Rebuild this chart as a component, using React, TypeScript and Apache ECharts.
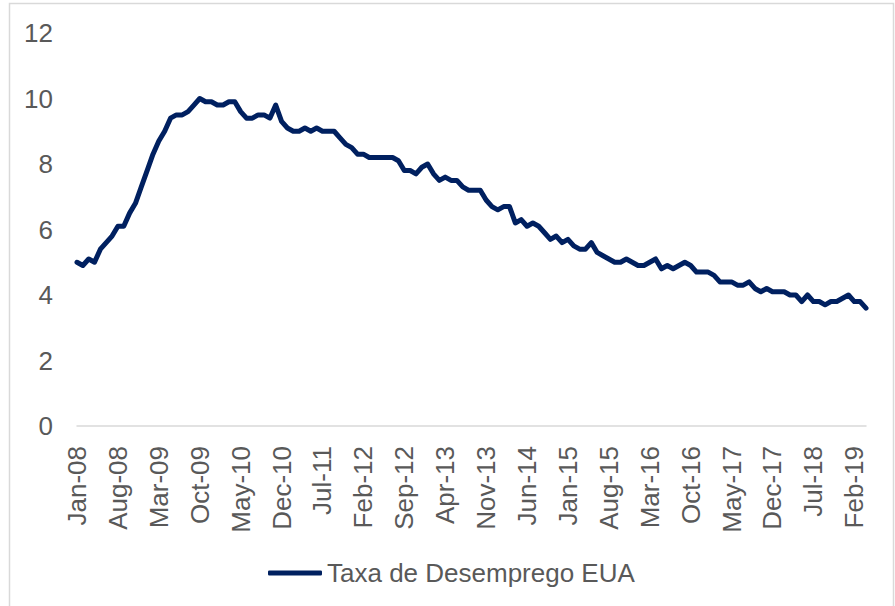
import React, { useEffect, useRef } from "react";
import * as echarts from "echarts";

const monthNames = ["Jan", "Feb", "Mar", "Apr", "May", "Jun", "Jul", "Aug", "Sep", "Oct", "Nov", "Dec"];
const startYear = 2008;
const pointCount = 136; // Jan-08 .. Apr-19
const categories: string[] = [];
for (let i = 0; i < pointCount; i++) {
  const y = startYear + Math.floor(i / 12);
  categories.push(`${monthNames[i % 12]}-${String(y % 100).padStart(2, "0")}`);
}

const seriesName = "Taxa de Desemprego EUA";
const unemployment = [
  5.0, 4.9, 5.1, 5.0, 5.4, 5.6, 5.8, 6.1, 6.1, 6.5, 6.8, 7.3,
  7.8, 8.3, 8.7, 9.0, 9.4, 9.5, 9.5, 9.6, 9.8, 10.0, 9.9, 9.9,
  9.8, 9.8, 9.9, 9.9, 9.6, 9.4, 9.4, 9.5, 9.5, 9.4, 9.8, 9.3,
  9.1, 9.0, 9.0, 9.1, 9.0, 9.1, 9.0, 9.0, 9.0, 8.8, 8.6, 8.5,
  8.3, 8.3, 8.2, 8.2, 8.2, 8.2, 8.2, 8.1, 7.8, 7.8, 7.7, 7.9,
  8.0, 7.7, 7.5, 7.6, 7.5, 7.5, 7.3, 7.2, 7.2, 7.2, 6.9, 6.7,
  6.6, 6.7, 6.7, 6.2, 6.3, 6.1, 6.2, 6.1, 5.9, 5.7, 5.8, 5.6,
  5.7, 5.5, 5.4, 5.4, 5.6, 5.3, 5.2, 5.1, 5.0, 5.0, 5.1, 5.0,
  4.9, 4.9, 5.0, 5.1, 4.8, 4.9, 4.8, 4.9, 5.0, 4.9, 4.7, 4.7,
  4.7, 4.6, 4.4, 4.4, 4.4, 4.3, 4.3, 4.4, 4.2, 4.1, 4.2, 4.1,
  4.1, 4.1, 4.0, 4.0, 3.8, 4.0, 3.8, 3.8, 3.7, 3.8, 3.8, 3.9,
  4.0, 3.8, 3.8, 3.6,
];
const yTicks = { min: 0, max: 12, interval: 2 };

export default function App() {
  const ref = useRef<HTMLDivElement>(null);
  useEffect(() => {
    if (!ref.current) return;
    const chart = echarts.init(ref.current, undefined, { renderer: "svg" });
    const font = "'Liberation Sans', Arial, sans-serif";
    chart.setOption({
      animation: false,
      backgroundColor: "#ffffff",
      textStyle: { fontFamily: font },
      graphic: [
        {
          type: "rect",
          shape: { x: 9.5, y: 3.5, width: 884, height: 620 },
          style: { fill: "none", stroke: "#d9d9d9", lineWidth: 1.5 },
          silent: true,
          z: -1,
        },
      ],
      grid: { left: 77, right: 29, top: 33, bottom: 180, containLabel: false },
      xAxis: {
        type: "category",
        data: categories,
        boundaryGap: false,
        axisLine: { lineStyle: { color: "#d9d9d9", width: 1.5 } },
        axisTick: { show: false },
        axisLabel: {
          interval: 6,
          rotate: 90,
          margin: 20,
          fontSize: 26,
          color: "#595959",
          fontFamily: font,
        },
        splitLine: { show: false },
      },
      yAxis: {
        type: "value",
        min: yTicks.min,
        max: yTicks.max,
        interval: yTicks.interval,
        axisLine: { show: false },
        axisTick: { show: false },
        splitLine: { show: false },
        axisLabel: { fontSize: 26, color: "#595959", margin: 24, fontFamily: font },
      },
      legend: {
        data: [seriesName],
        left: 263,
        top: 555,
        icon: "roundRect",
        itemWidth: 54,
        itemHeight: 5,
        itemGap: 5,
        textStyle: { fontSize: 26, color: "#595959", fontFamily: font },
      },
      series: [
        {
          name: seriesName,
          type: "line",
          data: unemployment,
          symbol: "none",
          lineStyle: { color: "#002060", width: 5, join: "round", cap: "round" },
          itemStyle: { color: "#002060" },
        },
      ],
    });
    return () => chart.dispose();
  }, []);
  return (
    <div
      ref={ref}
      style={{ position: "fixed", left: 0, top: 0, width: 895, height: 606 }}
    />
  );
}
